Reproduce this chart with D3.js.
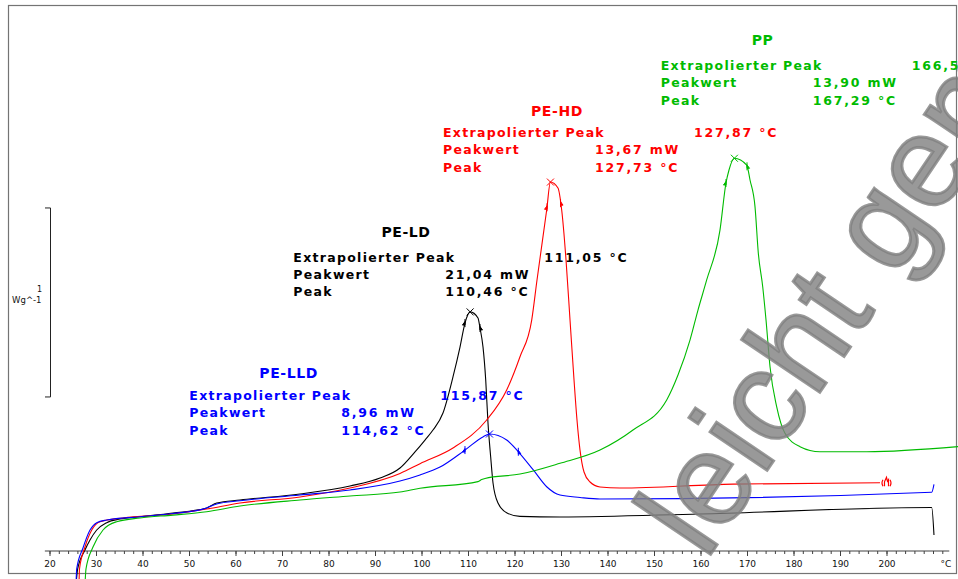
<!DOCTYPE html>
<html>
<head>
<meta charset="utf-8">
<script src="https://cdn.jsdelivr.net/npm/d3@7"></script>
<style>
  html, body { margin: 0; padding: 0; background: #fff; }
  svg { display: block; }
</style>
</head>
<body>
<svg id="chart" width="958" height="579"></svg>
<script>
// ---- DSC heating runs: temperature (°C) and normalised heat flow (W/g) ----
const ldTemp = [25.70, 26.06, 27.63, 28.71, 30.15, 32.30, 35.16, 39.46, 46.56, 53.81, 55.96, 60.97, 73.87, 84.62, 91.08, 95.38, 98.60, 100.75, 102.47, 104.62, 106.77, 108.28, 109.35, 110.46, 112.15, 112.58, 113.23, 113.81, 114.30, 114.88, 115.38, 116.45, 118.39, 121.18, 129.78, 159.89, 209.72, 210.21];
const ldSignal = [-0.180, -0.095, 0.005, 0.058, 0.111, 0.150, 0.169, 0.181, 0.201, 0.228, 0.254, 0.270, 0.302, 0.344, 0.386, 0.439, 0.524, 0.587, 0.640, 0.730, 0.921, 1.079, 1.206, 1.265, 1.233, 1.180, 1.079, 0.905, 0.677, 0.497, 0.360, 0.254, 0.201, 0.183, 0.180, 0.196, 0.230, 0.085];

const hdTemp = [26.34, 26.45, 27.63, 29.08, 30.86, 35.81, 46.56, 53.81, 60.97, 73.87, 84.62, 95.38, 99.68, 106.77, 114.02, 118.32, 121.18, 123.70, 124.84, 126.92, 127.73, 129.35, 130.15, 131.08, 131.94, 132.80, 133.44, 134.09, 134.95, 136.24, 138.39, 142.69, 166.99, 198.60];
const hdSignal = [-0.180, -0.095, 0.021, 0.111, 0.155, 0.175, 0.196, 0.222, 0.254, 0.286, 0.333, 0.410, 0.462, 0.545, 0.693, 0.852, 1.028, 1.222, 1.434, 1.804, 1.952, 1.921, 1.804, 1.540, 1.222, 0.905, 0.693, 0.534, 0.418, 0.365, 0.339, 0.333, 0.354, 0.361];

const lldTemp = [25.70, 25.85, 27.20, 28.71, 30.15, 32.30, 39.46, 46.56, 53.81, 55.96, 60.97, 73.87, 84.62, 95.38, 99.68, 103.98, 109.35, 113.29, 114.62, 118.32, 120.82, 124.04, 126.92, 129.78, 134.09, 138.39, 209.72, 210.21];
const lldSignal = [-0.180, -0.095, 0.016, 0.111, 0.150, 0.164, 0.181, 0.198, 0.228, 0.249, 0.266, 0.296, 0.323, 0.370, 0.402, 0.444, 0.534, 0.605, 0.619, 0.587, 0.525, 0.429, 0.340, 0.296, 0.283, 0.275, 0.311, 0.353];

const ppTemp = [27.63, 27.85, 29.35, 31.51, 34.45, 39.46, 46.56, 53.81, 60.97, 73.87, 84.62, 95.38, 99.68, 112.15, 112.95, 113.66, 121.18, 129.78, 138.39, 145.48, 152.73, 155.16, 157.74, 159.46, 161.33, 164.19, 165.48, 166.13, 167.29, 169.94, 170.65, 171.72, 172.43, 173.38, 174.09, 174.95, 176.39, 178.17, 181.40, 185.70, 195.74, 215.38];
const ppSignal = [-0.180, -0.095, 0.021, 0.111, 0.155, 0.175, 0.190, 0.208, 0.238, 0.270, 0.291, 0.312, 0.332, 0.367, 0.378, 0.384, 0.407, 0.464, 0.534, 0.640, 0.799, 0.931, 1.116, 1.275, 1.434, 1.698, 1.947, 2.016, 2.078, 2.042, 1.963, 1.822, 1.577, 1.398, 1.222, 0.975, 0.763, 0.623, 0.552, 0.525, 0.525, 0.552];

// ---- peak evaluation results ----
const sampleNames = ["PE-LD", "PE-HD", "PE-LLD", "PP"];
const peakTemps = [110.46, 127.73, 114.62, 167.29];        // °C
const peakValues = [21.04, 13.67, 8.96, 13.90];            // mW
const extrapolatedPeaks = [111.05, 127.87, 115.87, 166.5]; // °C
const integrationLimits = [[109.35, 112.58], [127.0, 129.9], [109.35, 120.82], [165.48, 170.0]];

// ---- axis ticks ----
const majorTicks = d3.range(20, 201, 10);
const minorTicks = d3.range(20, 213, 2);
const axisUnit = "°C";
const scaleBarLabel = ["1", "Wg^-1"];

// ---- styling / layout ----
const colors = ["#000000", "#ff0000", "#0000ff", "#00bb00"];
const temps = [ldTemp, hdTemp, lldTemp, ppTemp];
const signals = [ldSignal, hdSignal, lldSignal, ppSignal];
const blockLayout = [
  { tx: 406, ty: 236.7, x: 293.3, y: 261.7 },
  { tx: 557, ty: 116, x: 443, y: 137.3 },
  { tx: 288.7, ty: 378.3, x: 189.3, y: 400 },
  { tx: 762.5, ty: 45, x: 660.7, y: 70 }
];

const svg = d3.select("#chart");
const x = d3.scaleLinear().domain([20, 200]).range([49.5, 886.5]);
const y = d3.scaleLinear().domain([0, 1]).range([551, 362]);

const de = d3.formatLocale({ decimal: ",", thousands: ".", grouping: [3], currency: ["", " €"] });
const f2 = de.format(".2f");
const f2trim = de.format(".2~f");

// frame
svg.append("rect")
  .attr("x", 8.5).attr("y", 5.5).attr("width", 948).attr("height", 568)
  .attr("fill", "none").attr("stroke", "#747474").attr("stroke-width", 1.2);

// temperature axis
const axisG = svg.append("g").attr("transform", `translate(0,${y(0)})`);
axisG.append("line")
  .attr("x1", x(19)).attr("x2", x(213.5))
  .attr("stroke", "#404040").attr("stroke-width", 1);
axisG.append("g")
  .call(d3.axisBottom(x).tickValues(minorTicks).tickSize(3).tickFormat(""))
  .call(g => g.select(".domain").remove())
  .call(g => g.selectAll("line").attr("stroke", "#404040"));
axisG.append("g")
  .call(d3.axisBottom(x).tickValues(majorTicks).tickSize(5).tickPadding(5).tickFormat(d3.format("d")))
  .call(g => g.select(".domain").remove())
  .call(g => g.selectAll("line").attr("stroke", "#404040"))
  .call(g => g.selectAll("text")
    .attr("font-family", "DejaVu Sans").attr("font-size", 9).attr("fill", "#111"));
axisG.append("text")
  .attr("x", x(212.8)).attr("y", 10).attr("dy", "0.71em")
  .attr("text-anchor", "middle")
  .attr("font-family", "DejaVu Sans").attr("font-size", 9).attr("fill", "#111")
  .text(axisUnit);

// heat-flow scale bar (1 W/g)
const barLow = 0.815, barHigh = barLow + 1;
svg.append("path")
  .attr("d", `M45,${y(barHigh)}H50.5V${y(barLow)}H45`)
  .attr("fill", "none").attr("stroke", "#222").attr("stroke-width", 1);
svg.append("text")
  .attr("x", 42).attr("y", 292).attr("text-anchor", "end")
  .attr("font-family", "DejaVu Sans").attr("font-size", 8).attr("fill", "#111")
  .text(scaleBarLabel[0]);
svg.append("text")
  .attr("x", 41.5).attr("y", 302.5).attr("text-anchor", "end")
  .attr("font-family", "DejaVu Sans").attr("font-size", 8.5).attr("fill", "#111")
  .text(scaleBarLabel[1]);

// curves
const line = d3.line().x(d => x(d[0])).y(d => y(d[1])).curve(d3.curveMonotoneX);
const valueAt = (ts, vs, t) => {
  const i = Math.max(1, Math.min(ts.length - 1, d3.bisectLeft(ts, t)));
  const k = (t - ts[i - 1]) / (ts[i] - ts[i - 1]);
  return vs[i - 1] + k * (vs[i] - vs[i - 1]);
};

temps.forEach((ts, s) => {
  const pts = ts.map((t, i) => [t, signals[s][i]]);
  const col = colors[s];
  svg.append("path")
    .attr("d", line(pts))
    .attr("fill", "none").attr("stroke", col).attr("stroke-width", 1.1);

  // peak cross
  const px = x(peakTemps[s]), py = y(valueAt(ts, signals[s], peakTemps[s]));
  svg.append("path")
    .attr("d", `M${px - 3.5},${py - 3.5}L${px + 3.5},${py + 3.5}M${px - 3.5},${py + 3.5}L${px + 3.5},${py - 3.5}`)
    .attr("stroke", col).attr("stroke-width", 1);

  // integration limit marks
  integrationLimits[s].forEach((t, j) => {
    const mx = x(t), my = y(valueAt(ts, signals[s], t));
    const dir = j === 0 ? -1 : 1;
    svg.append("path")
      .attr("d", `M${mx},${my - 4}L${mx},${my + 4}M${mx},${my - 1.5}L${mx + dir * 2.5},${my + 2}L${mx},${my + 2}Z`)
      .attr("stroke", col).attr("fill", col).attr("stroke-width", 1);
  });
});

// furnace end symbol on the PE-HD run
{
  const t = hdTemp[hdTemp.length - 1];
  const fx = x(t) + 1, fy = y(hdSignal[hdSignal.length - 1]);
  svg.append("path")
    .attr("d", `M${fx + 2},${fy - 3}Q${fx},${fy} ${fx + 2},${fy + 3.5}` +
               `M${fx + 3.5},${fy + 3.5}L${fx + 3.5},${fy - 1}L${fx + 5.5},${fy - 5.5}L${fx + 6.5},${fy - 1.5}L${fx + 7.5},${fy - 3}L${fx + 7.5},${fy + 3.5}` +
               `M${fx + 9},${fy - 3}Q${fx + 11},${fy} ${fx + 9},${fy + 3.5}`)
    .attr("fill", "none").attr("stroke", colors[1]).attr("stroke-width", 1.2);
}

// evaluation text blocks
const rowLabels = ["Extrapolierter Peak", "Peakwert", "Peak"];
const rowDy = [0, 17, 34.7];
sampleNames.forEach((name, s) => {
  const L = blockLayout[s];
  const g = svg.append("g")
    .attr("fill", colors[s])
    .attr("font-family", "DejaVu Sans").attr("font-weight", "bold");
  g.append("text")
    .attr("x", L.tx).attr("y", L.ty).attr("text-anchor", "middle")
    .attr("font-size", 14).attr("letter-spacing", 0.6)
    .text(name);
  rowLabels.forEach((r, i) => {
    g.append("text")
      .attr("x", L.x).attr("y", L.y + rowDy[i])
      .attr("font-size", 12.5).attr("letter-spacing", 1.3)
      .text(r);
  });
  const vals = [
    { dx: 251, text: `${f2trim(extrapolatedPeaks[s])} °C` },
    { dx: 152, text: `${f2(peakValues[s])} mW` },
    { dx: 152, text: `${f2(peakTemps[s])} °C` }
  ];
  vals.forEach((v, i) => {
    g.append("text")
      .attr("x", L.x + v.dx).attr("y", L.y + rowDy[i])
      .attr("font-size", 12.5).attr("letter-spacing", 1.8)
      .text(v.text);
  });
});

// watermark
svg.append("text")
  .attr("transform", "translate(705.7,561.4) rotate(-56)")
  .attr("font-family", "Liberation Sans").attr("font-size", 130)
  .attr("fill", "#808080").attr("fill-opacity", 0.8)
  .attr("stroke", "#808080").attr("stroke-opacity", 0.8).attr("stroke-width", 3)
  .attr("paint-order", "stroke")
  .text("leicht gemacht");
</script>
</body>
</html>
